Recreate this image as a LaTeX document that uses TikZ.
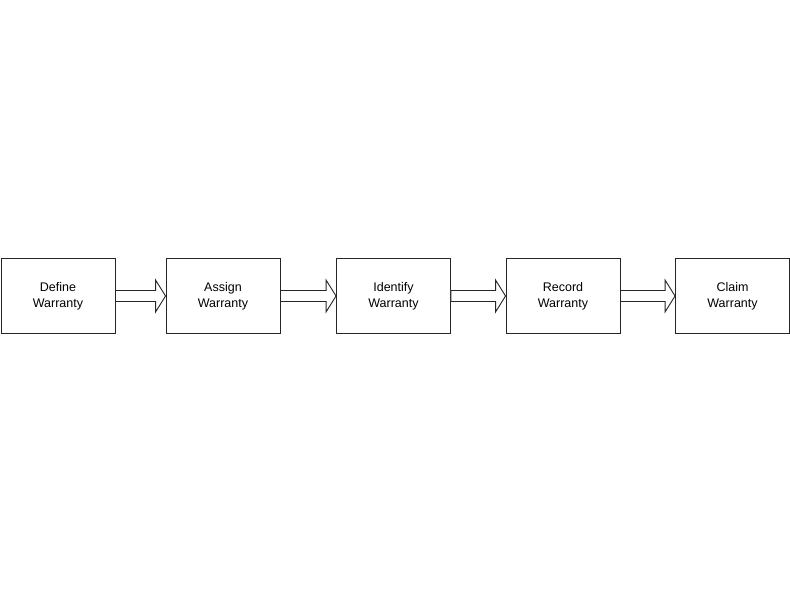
\documentclass[tikz,border=0pt]{standalone}
\usepackage{fontspec}
\setmainfont{Liberation Sans}
\usepackage{tikz}
\usetikzlibrary{calc}
\tikzset{
  stage/.style   = {draw=black!85, line width=0.9pt, align=center,
                    minimum width=114pt, minimum height=75pt, inner sep=0pt,
                    font=\fontsize{12.5}{16}\selectfont},
  blockar/.style = {draw=black!85, line width=0.9pt, fill=white, line join=miter},
}
% hollow block arrow from one stage to the next
\newcommand{\flowarrow}[2]{%
  \draw[blockar] ($(#1.east)+(0,5.5)$) -- ($(#2.west)+(-10,5.5)$)
       -- ($(#2.west)+(-10,16)$) -- (#2.west) -- ($(#2.west)+(-10,-16)$)
       -- ($(#2.west)+(-10,-5.5)$) -- ($(#1.east)+(0,-5.5)$) -- cycle;}

\begin{document}
\begin{tikzpicture}[x=1pt, y=-1pt]
  \useasboundingbox[fill=white] (0,0) rectangle (790,593);
  \node[stage] (define)   at (58,296)    {Define\\Warranty};
  \node[stage] (assign)   at (223,296)   {Assign\\Warranty};
  \node[stage] (identify) at (393.5,296) {Identify\\Warranty};
  \node[stage] (record)   at (563,296)   {Record\\Warranty};
  \node[stage] (claim)    at (732.5,296) {Claim\\Warranty};
  \flowarrow{define}{assign}
  \flowarrow{assign}{identify}
  \flowarrow{identify}{record}
  \flowarrow{record}{claim}
\end{tikzpicture}
\end{document}
